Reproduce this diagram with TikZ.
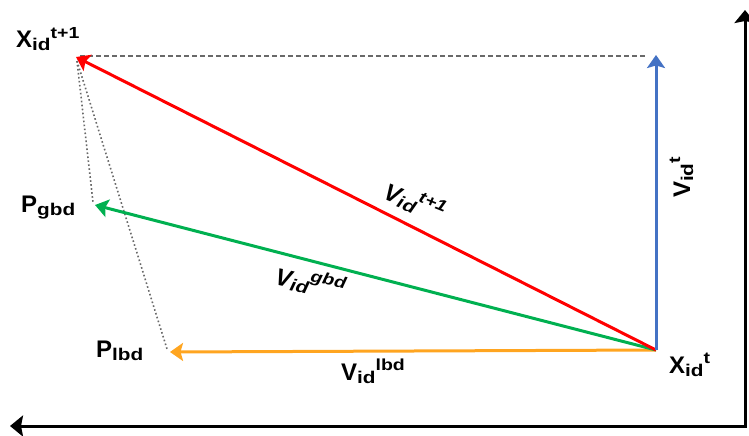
\documentclass[tikz,border=0pt]{standalone}
\usepackage{fontspec}
\setmainfont{Liberation Sans}
\newfontfamily\scrfont[FakeStretch=1.22]{Liberation Sans}
\usetikzlibrary{arrows.meta}
\definecolor{cred}{RGB}{255,0,0}
\definecolor{cgreen}{RGB}{0,176,80}
\definecolor{corange}{RGB}{255,165,32}
\definecolor{cblue}{RGB}{68,114,196}
\definecolor{cgray}{RGB}{105,105,105}
\newcommand\mylab[3]{#1\raisebox{-3pt}{\scrfont\fontsize{17}{17}\selectfont #2}\raisebox{10pt}{\scrfont\fontsize{16}{16}\selectfont #3}}
\begin{document}
\begin{tikzpicture}[x=1pt,y=-1pt,
  vec/.style={line width=3pt,-{Stealth[length=13pt,width=18pt,inset=2.5pt]}},
  axisline/.style={line width=3pt,black,{Stealth[length=13pt,width=21pt,inset=2pt]}-{Stealth[length=13pt,width=21pt,inset=2pt]}},
  guide/.style={cgray,line width=1.5pt,dash pattern=on 5pt off 3pt},
  dotguide/.style={cgray,line width=1.6pt,dash pattern=on 1.6pt off 2.4pt},
  lab/.style={inner sep=0pt,anchor=base west,font=\fontsize{24}{24}\selectfont\bfseries},
  ilab/.style={lab,font=\fontsize{24}{24}\selectfont\bfseries\itshape}]
\useasboundingbox (0,0) rectangle (749,436);
% key points
\coordinate (O) at (656,350);
\coordinate (A) at (76,57);
\coordinate (G) at (95,205);
\coordinate (L) at (170,352);
\coordinate (B) at (656,55);
\coordinate (Adot) at (77,61);
\coordinate (Gdot) at (93,202);
\coordinate (Ldot) at (167,349);
\coordinate (Adash) at (80,56);
\coordinate (Bdash) at (646,56);
\coordinate (axtop) at (745,10);
\coordinate (axcorner) at (745,426);
\coordinate (axleft) at (10,426);
% axes
\draw[axisline] (axtop) -- (axcorner) -- (axleft);
% guides
\draw[guide] (Adash) -- (Bdash);
\draw[dotguide] (Adot) -- (Gdot);
\draw[dotguide] (Adot) -- (Ldot);
% vectors
\draw[vec,corange] (O) -- (L);
\draw[vec,cgreen] (O) -- (G);
\draw[vec,cred] (O) -- (A);
\draw[vec,cblue] (O) -- (B);
% labels
\node[lab] (lxt1) at (16,48) {\mylab{X}{id}{t+1}};
\node[lab] (lpg) at (21,212) {\mylab{P}{gbd}{}};
\node[lab] (lpl) at (96,357) {\mylab{P}{lbd}{}};
\node[lab] (lxt) at (669,373) {\mylab{X}{id}{t}};
\node[lab,rotate=90] (lvt) at (690,198) {\mylab{V}{id}{t}};
\node[lab] (lvl) at (341,380) {\mylab{V}{id}{lbd}};
\node[ilab,rotate=-22] (lvt1) at (382,198) {\mylab{V}{id}{t+1}};
\node[ilab,rotate=-12] (lvg) at (274,284) {\mylab{V}{id}{gbd}};
\end{tikzpicture}
\end{document}
